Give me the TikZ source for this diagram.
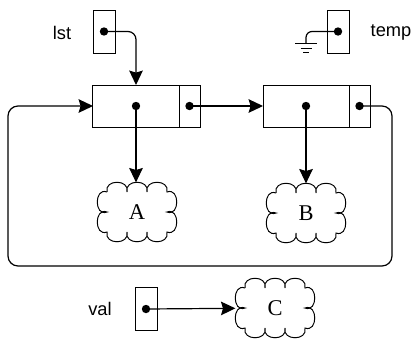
\documentclass[tikz,border=0pt]{standalone}
\usepackage{fontspec}
\setmainfont{Liberation Serif}
\setsansfont{Liberation Sans}
\usetikzlibrary{arrows.meta,calc}
\tikzset{
    cell/.style = {draw, rectangle, line width=0.7pt,
        minimum height=1.05cm,
        minimum width=2.15cm, inner sep=0pt, outer sep=0pt},
    link/.style = {draw, rectangle, line width=0.7pt,
        minimum height=1.05cm,
        minimum width=0.525cm, inner sep=0pt, outer sep=0pt, anchor=west},
    var/.style = {draw, rectangle, line width=0.7pt,
        minimum height=1.075cm,
        minimum width=0.55cm, inner sep=0pt},
    blob/.style = {rectangle, minimum width=1.5cm, minimum height=1cm,
        inner sep=0pt, outer sep=0.24cm, font=\fontsize{16}{18}\selectfont},
    dot/.style = {circle, fill, inner sep=0pt, minimum size=0.21cm},
    ptr/.style = {draw, line width=0.85pt, -{Stealth[length=3.6mm,width=3.4mm,inset=0.5mm]}},
    varname/.style = {font=\sffamily\fontsize{13}{15}\selectfont}
}
% curly outline around a blob node
\newcommand{\cloudline}[1]{%
    \draw[line width=0.7pt, shift={(#1.center)}] (-30,-20)
    \foreach \ax/\ay/\bx/\by/\qx/\qy in {
        -33/-33/-7/-33/-10/-20, -13/-33/13/-33/10/-20, 7/-33/33/-33/30/-20,
        43/-25/43/5/30/0, 43/-5/43/25/30/20,
        33/33/7/33/10/20, 13/33/-13/33/-10/20, -7/33/-33/33/-30/20,
        -43/25/-43/-5/-30/0, -43/5/-43/-25/-30/-20}
    { .. controls (\ax,\ay) and (\bx,\by) .. (\qx,\qy) };
}

\begin{document}
\begin{tikzpicture}[x=0.025cm, y=-0.025cm]
    \useasboundingbox (0,0) rectangle (419,343);
    % variables
    \node[var] (lst) at (104,31.5) {};
    \node[var] (temp) at (338,31.5) {};
    \node[var] (val) at (146,309) {};
    \node[varname] (lstname) at (62,33) {lst};
    \node[varname] (tempname) at (391,32) {temp};
    \node[varname] (valname) at (100,309) {val};
    % list cells
    \node[cell] (n1) at (136,106) {};
    \node[link] (n1p) at (n1.east) {};
    \node[cell] (n2) at (306,106) {};
    \node[link] (n2p) at (n2.east) {};
    % contents
    \node[blob] (A) at (137,212) {A};
    \node[blob] (B) at (306,213) {B};
    \node[blob] (C) at (275,308) {C};
    \cloudline{A}
    \cloudline{B}
    \cloudline{C}
    % pointer dots
    \node[dot] (lstd) at (lst) {};
    \node[dot] (tempd) at (temp) {};
    \node[dot] (vald) at (val) {};
    \node[dot] (n1d) at (n1) {};
    \node[dot] (n1pd) at (n1p) {};
    \node[dot] (n2d) at (n2) {};
    \node[dot] (n2pd) at (n2p) {};
    \coordinate (gnd) at (306,43);
    \coordinate (loopSE) at (392,266);
    \coordinate (loopSW) at (8,266);
    % pointers
    \draw[ptr, rounded corners=2mm] (lstd.center) -| (n1);
    \draw[ptr] (n1d.center) -- (n1d.center |- A.north);
    \draw[ptr] (n2d.center) -- (B);
    \draw[ptr] (n1pd.center) -- (n2);
    \draw[ptr, rounded corners=2.5mm] (n2pd.center) -| (loopSE) -- (loopSW) |- (n1);
    \draw[ptr] (vald.center) -- (C);
    % null pointer
    \draw[line width=0.85pt, rounded corners=1.5mm] (tempd.center) -| (gnd);
    \foreach \w/\dy in {11/0, 5.5/5, 3/9}
        \draw[line width=0.7pt] ($(gnd)+(-\w,\dy)$) -- ($(gnd)+(\w,\dy)$);
\end{tikzpicture}
\end{document}
